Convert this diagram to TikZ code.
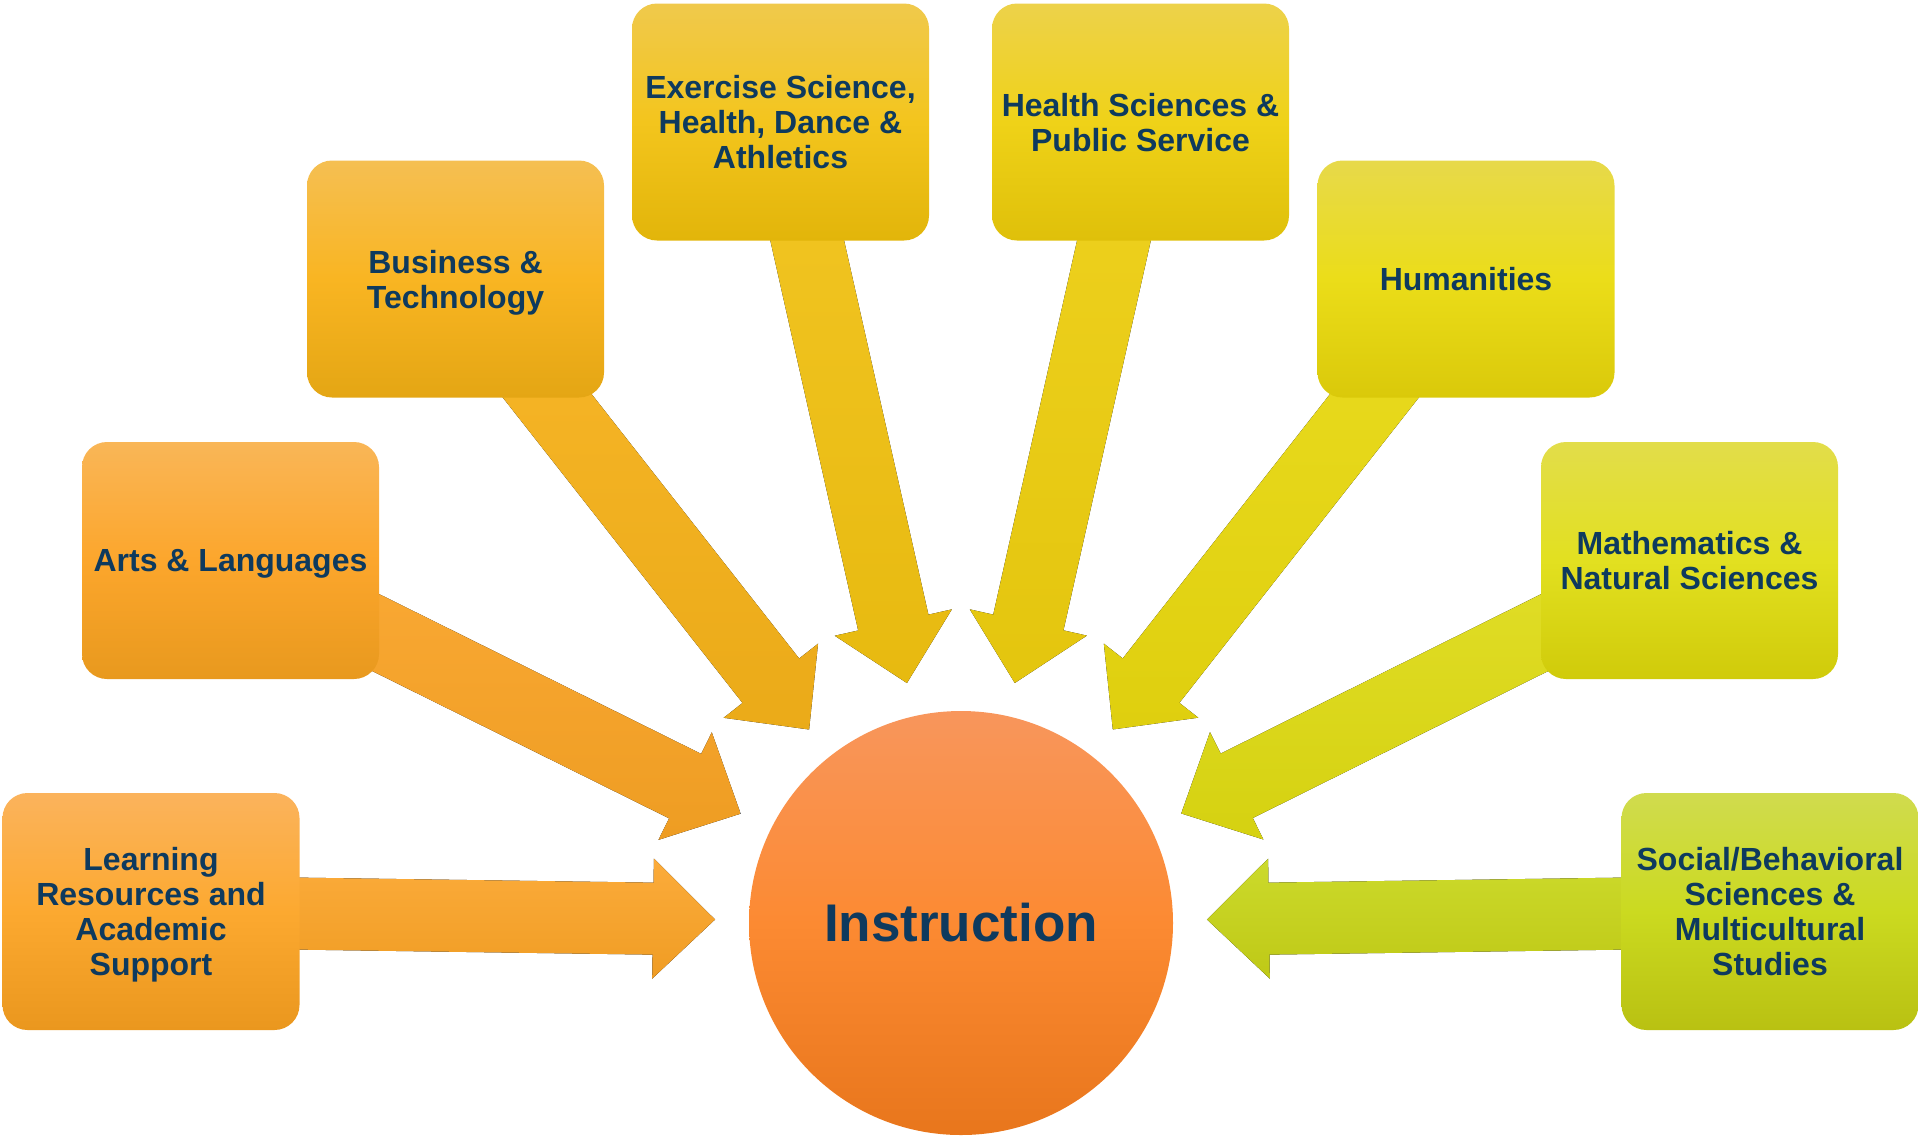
\documentclass[tikz,border=0pt]{standalone}
\usepackage{fontspec}
\setmainfont{Liberation Sans}
\usepackage{tikz}
\usetikzlibrary{calc, positioning, backgrounds}
\definecolor{navy}{HTML}{0E3A5E}
% hub
\definecolor{hubT}{HTML}{F8965C}\definecolor{hubM}{HTML}{FC8A32}\definecolor{hubB}{HTML}{E8761C}
% boxes: top, middle, bottom
\definecolor{learnT}{HTML}{FBB35C}\definecolor{learnM}{HTML}{FCA930}\definecolor{learnB}{HTML}{EA971E}
\definecolor{artsT}{HTML}{F9B657}\definecolor{artsM}{HTML}{FCA62C}\definecolor{artsB}{HTML}{E8991E}
\definecolor{busT}{HTML}{F5BF52}\definecolor{busM}{HTML}{F9B522}\definecolor{busB}{HTML}{E4A614}
\definecolor{exerT}{HTML}{F0C94C}\definecolor{exerM}{HTML}{F3C51D}\definecolor{exerB}{HTML}{E2B50A}
\definecolor{healthT}{HTML}{EDD24A}\definecolor{healthM}{HTML}{EFD218}\definecolor{healthB}{HTML}{DFC00A}
\definecolor{humanT}{HTML}{E7D94A}\definecolor{humanM}{HTML}{EBDD19}\definecolor{humanB}{HTML}{DAC90A}
\definecolor{mathT}{HTML}{E2DD4A}\definecolor{mathM}{HTML}{E2E020}\definecolor{mathB}{HTML}{D0CB0A}
\definecolor{socialT}{HTML}{D0DB4E}\definecolor{socialM}{HTML}{CBDA20}\definecolor{socialB}{HTML}{B9C112}
\tikzstyle{area}=[rectangle, rounded corners=25pt, minimum width=297pt, minimum height=237pt, inner sep=0pt, text depth=0pt, align=center, text=navy, font=\fontsize{32}{35}\selectfont\bfseries]
\tikzstyle{hub}=[circle, minimum size=424pt, inner sep=0pt, text=navy, font=\fontsize{53}{60}\selectfont\bfseries, top color=hubT, bottom color=hubB, middle color=hubM]
% block arrow from a box to the hub: #1 box, #2 top colour, #3 bottom colour
\newcommand{\feed}[3]{%
\coordinate (tip) at ($(instr.center)!246pt!(#1.center)$);
\coordinate (base) at ($(tip)!62pt!(#1.center)$);
\fill[top color=#2, bottom color=#3] ($(#1.center)!36pt!90:(tip)$) -- ($(base)!36pt!-90:(#1.center)$) -- ($(base)!60pt!-90:(#1.center)$) -- (tip) -- ($(base)!60pt!90:(#1.center)$) -- ($(base)!36pt!90:(#1.center)$) -- ($(#1.center)!36pt!-90:(tip)$) -- cycle;
}

\begin{document}
\begin{tikzpicture}[x=1pt, y=-1pt]
\useasboundingbox (0,0) rectangle (1918,1136);
\node[hub] (instr) at (961,923) {Instruction};
\node[area, top color=learnT, bottom color=learnB, middle color=learnM] (learn) at (151,911.5) {Learning\\Resources and\\Academic\\Support};
\node[area, top color=artsT, bottom color=artsB, middle color=artsM] (arts) at (230.5,560.5) {Arts \& Languages};
\node[area, top color=busT, bottom color=busB, middle color=busM] (bus) at (455.5,279) {Business \&\\Technology};
\node[area, top color=exerT, bottom color=exerB, middle color=exerM] (exer) at (780.5,122) {Exercise Science,\\Health, Dance \&\\Athletics};
\node[area, top color=healthT, bottom color=healthB, middle color=healthM] (health) at (1140.5,122) {Health Sciences \&\\Public Service};
\node[area, top color=humanT, bottom color=humanB, middle color=humanM] (human) at (1466,279) {Humanities};
\node[area, top color=mathT, bottom color=mathB, middle color=mathM] (math) at (1689.5,560.5) {Mathematics \&\\Natural Sciences};
\node[area, top color=socialT, bottom color=socialB, middle color=socialM] (social) at (1770,911.5) {Social/Behavioral\\Sciences \&\\Multicultural\\Studies};
\begin{scope}[on background layer]
\feed{learn}{learnM!75!learnT}{learnB!70!learnM}
\feed{arts}{artsM!75!artsT}{artsB!70!artsM}
\feed{bus}{busM!85!busT}{busB!70!busM}
\feed{exer}{exerM!85!exerT}{exerB!70!exerM}
\feed{health}{healthM!85!healthT}{healthB!70!healthM}
\feed{human}{humanM!85!humanT}{humanB!70!humanM}
\feed{math}{mathM!75!mathT}{mathB!70!mathM}
\feed{social}{socialM!75!socialT}{socialB!70!socialM}
\end{scope}
\end{tikzpicture}
\end{document}
